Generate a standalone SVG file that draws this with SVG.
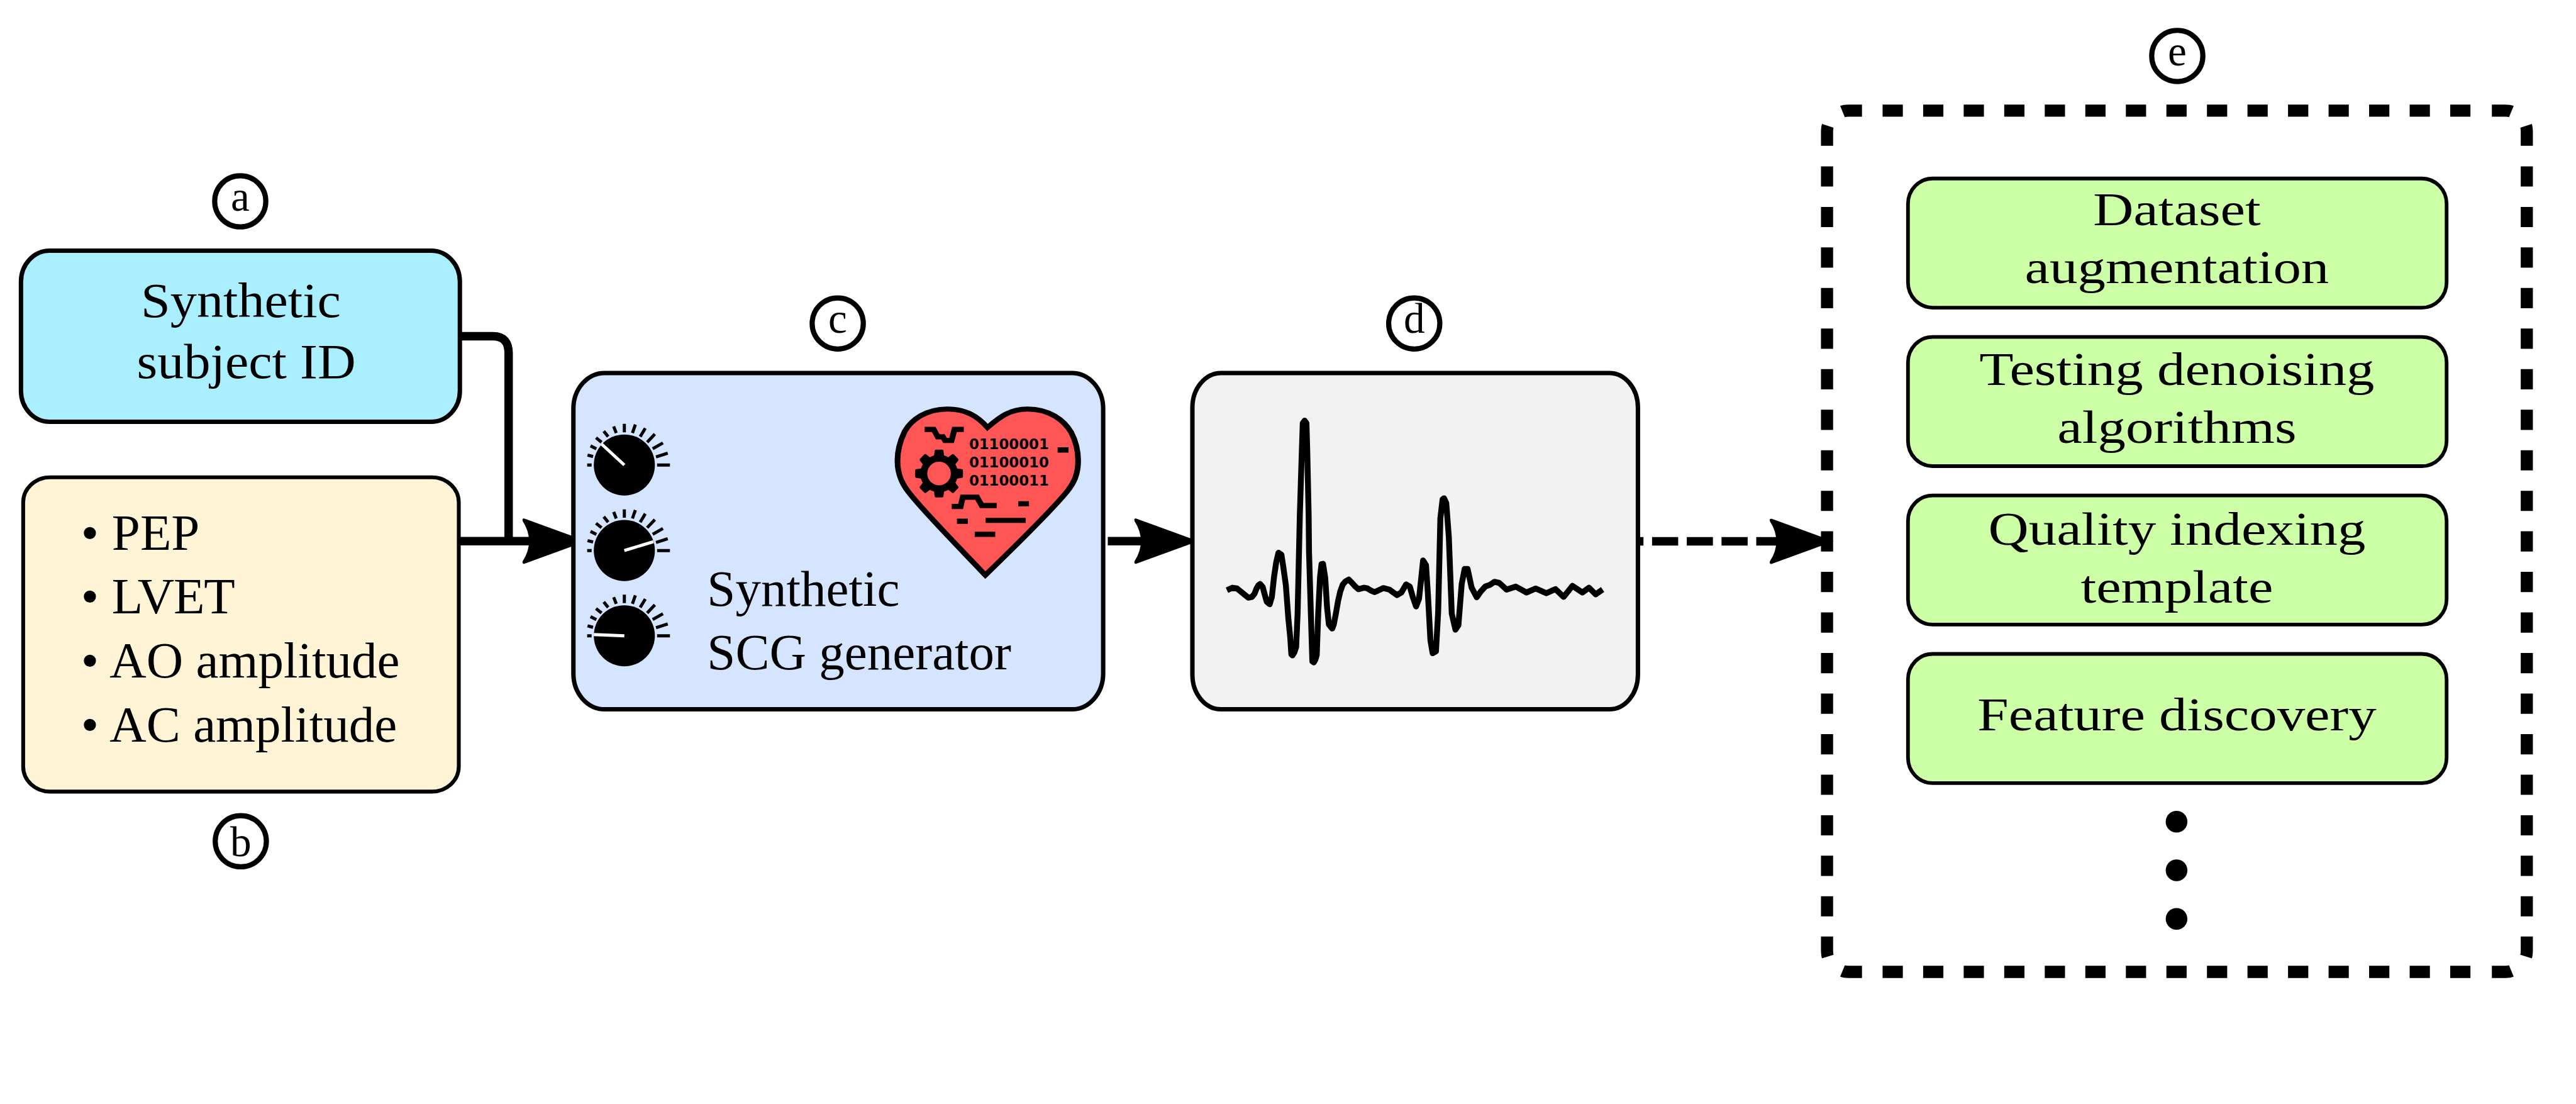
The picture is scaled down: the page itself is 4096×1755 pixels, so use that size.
<svg xmlns="http://www.w3.org/2000/svg" xmlns:xlink="http://www.w3.org/1999/xlink" width="4096" height="1755" viewBox="0 0 4096 1755">
<style>
text{font-family:"Liberation Serif","Times New Roman",serif;fill:#000}
.t132{font-size:132px}.t138{font-size:138.5px}.t126{font-size:126px;text-anchor:middle}
.lab{font-size:115px;text-anchor:middle}
.bin{font-family:"DejaVu Sans",sans-serif;font-weight:bold;font-size:39px}
.circ{fill:#fff;stroke:#000;stroke-width:14}
.box{stroke:#000;stroke-width:12}
.green{fill:#ccffa6;stroke:#000;stroke-width:10}
.line{fill:none;stroke:#000;stroke-width:23}
.dash{fill:none;stroke:#000;stroke-width:33}
.tick{stroke:#000;stroke-width:8.5;fill:none}
.hand{stroke:#fff;stroke-width:8.5;fill:none}
</style>
<defs>
<path id="arrow" d="M0 0L-168-61Q-176-63-173-54Q-156-28-156 0Q-156 28-173 54Q-176 63-168 61Z" fill="#000"/>
<g id="ticks">
<path class="tick" d="M-101 0H-89M-100-27L-85-23M-92-52L-76-44M-77-74L-62-62M-56-92L-44-77M-29-105L-22-87M0-112V-89M30-110L22-87M57-100L43-77M83-84L62-62M105-60L77-44M118-32L86-22M124 0H89"/>
<circle r="83" fill="#000"/>
</g>
<path id="tooth" d="M-14-46L-12-61Q-12-65-8-65H8Q12-65 12-61L14-46Z" fill="#000"/>
</defs>
<g transform="scale(0.585)">
<g id="connectors">
<path class="line" d="M1250 913.5H1340Q1382.5 913.5 1382.5 960V1470.5"/>
<path class="line" d="M1250 1470.5H1445"/>
<use href="#arrow" x="1594" y="1470.5"/>
<path class="line" d="M3011 1470.5H3105"/>
<use href="#arrow" x="3257" y="1470.5"/>
<path class="line" d="M4457 1471H4835" stroke-dasharray="71 23.4" stroke-dashoffset="61"/>
<use href="#arrow" x="4984" y="1471"/>
</g>
<g id="node-a">
<rect class="box" x="57" y="681" width="1193" height="465" rx="78" ry="84" fill="#aaefff"/>
<text class="t132" transform="translate(383 862) scale(1.09 1)">Synthetic</text>
<text class="t132" transform="translate(372 1028) scale(1.09 1)">subject ID</text>
</g>
<g id="label-a"><circle class="circ" cx="653" cy="547" r="69.5"/><text class="lab" x="653" y="573">a</text></g>
<g id="node-b">
<rect class="box" style="stroke-width:10.5" x="63" y="1297" width="1184" height="854" rx="73" ry="68" fill="#fff5d6"/>
<text class="t138"><tspan x="220" y="1493.5">•</tspan> <tspan x="304" y="1493.5">PEP</tspan></text>
<text class="t138"><tspan x="220" y="1667">•</tspan> <tspan x="304" y="1667" letter-spacing="-2">LVET</tspan></text>
<text class="t138"><tspan x="220" y="1841">•</tspan> <tspan x="298" y="1841">AO amplitude</tspan></text>
<text class="t138"><tspan x="220" y="2016">•</tspan> <tspan x="298" y="2016">AC amplitude</tspan></text>
</g>
<g id="label-b"><circle class="circ" cx="654.5" cy="2286" r="69.5"/><text class="lab" x="654.5" y="2327">b</text></g>
<g id="node-c">
<rect class="box" x="1558.5" y="1013.5" width="1440" height="914" rx="85" ry="97" fill="#d5e5ff"/>
<g id="knob-1" transform="translate(1697 1263.6)"><use href="#ticks"/><path class="hand" d="M0 0L-61.7-56.7"/></g>
<g id="knob-2" transform="translate(1697 1496)"><use href="#ticks"/><path class="hand" d="M0 0L79-24"/></g>
<g id="knob-3" transform="translate(1697 1727.7)"><use href="#ticks"/><path class="hand" d="M0 0L-83-3.5"/></g>
<g id="heart">
<g transform="translate(2350 1050) scale(.3954 .3508)">
<path d="M845 318C780 235 700 175 570 175C420 175 320 260 275 350C245 420 226 500 226 575C226 680 255 750 300 815C400 965 700 1305 830 1462C960 1320 1280 970 1395 810C1440 745 1468 680 1468 575C1468 500 1450 420 1420 355C1370 260 1270 175 1120 175C1000 175 930 235 845 318Z" fill="#ff5555" stroke="#000" stroke-width="39" stroke-miterlimit="8"/>
<path d="M413 333H475L503 390H538L553 419H598L618 333H682M599 930H660L675 858H773L805 923H908" fill="none" stroke="#000" stroke-width="40"/>
<path d="M1327 472H1402V513H1327ZM1056 889H1130V930H1056ZM635 1024H710V1065H635ZM832 1018H1107V1058H832ZM757 1126H898V1166H757Z" fill="#000"/>
</g>
<g id="gear" transform="translate(2552.4 1286.8)">
<circle r="41.5" fill="none" stroke="#000" stroke-width="19"/>
<use href="#tooth"/><use href="#tooth" transform="rotate(45)"/><use href="#tooth" transform="rotate(90)"/><use href="#tooth" transform="rotate(135)"/><use href="#tooth" transform="rotate(180)"/><use href="#tooth" transform="rotate(225)"/><use href="#tooth" transform="rotate(270)"/><use href="#tooth" transform="rotate(315)"/>
</g>
<text class="bin" x="2634" y="1220">01100001</text>
<text class="bin" x="2634" y="1269.5">01100010</text>
<text class="bin" x="2634" y="1319">01100011</text>
</g>
<text class="t138" x="1922" y="1647">Synthetic</text>
<text class="t138" x="1922" y="1819">SCG generator</text>
</g>
<g id="label-c"><circle class="circ" cx="2277" cy="879" r="69.5"/><text class="lab" x="2277" y="905">c</text></g>
<g id="node-d">
<rect class="box" x="3241" y="1013.5" width="1211" height="914" rx="78" ry="94" fill="#f2f2f2"/>
<polyline fill="none" stroke="#000" stroke-width="16" stroke-linejoin="round" points="3335,1604 3350,1597 3362,1599 3372,1607 3383,1616 3393,1624 3403,1622 3410,1613 3415,1600 3420,1591 3425,1587 3432,1595 3438,1617 3443,1635 3451,1642 3457,1622 3463,1567 3469,1527 3475,1502 3483,1507 3488,1540 3495,1590 3502,1683 3507,1733 3510,1778 3513,1781 3518,1773 3523,1758 3527,1667 3530,1533 3533,1400 3538,1240 3541,1150 3546,1143 3551,1150 3553,1217 3557,1400 3558,1500 3563,1667 3567,1797 3571,1800 3575,1793 3579,1780 3583,1667 3588,1567 3592,1533 3596,1532 3602,1570 3607,1650 3612,1697 3621,1708 3625,1698 3630,1673 3637,1633 3643,1607 3650,1588 3657,1580 3666,1575 3673,1582 3683,1593 3692,1601 3708,1597 3717,1599 3727,1605 3736,1609 3745,1605 3760,1598 3776,1602 3797,1617 3809,1610 3822,1588 3832,1594 3840,1622 3849,1648 3857,1627 3863,1571 3868,1523 3876,1536 3881,1612 3888,1740 3894,1775 3903,1770 3909,1663 3915,1408 3921,1357 3925,1354 3931,1367 3938,1459 3946,1668 3956,1711 3964,1699 3973,1587 3981,1546 3989,1546 4000,1597 4014,1623 4025,1607 4037,1594 4050,1589 4062,1581 4075,1584 4095,1602 4120,1594 4149,1610 4174,1599 4203,1612 4228,1601 4250,1622 4274,1592 4301,1610 4319,1597 4337,1615 4356,1602"/>
</g>
<g id="label-d"><circle class="circ" cx="3844" cy="879" r="69.5"/><text class="lab" x="3844" y="905">d</text></g>
<g id="group-e">
<path class="dash" d="M5117 300.5H6717M5117 2641H6717M4966 452V2490M6868 452V2490" stroke-dasharray="55 55.2"/>
<path class="dash" d="M5061 300.5H5025Q5014 300.5 5008 303M4966 396V360Q4966 348 4968 342M6773 300.5H6809Q6820 300.5 6826 303M6868 396V360Q6868 348 6866 342M5061 2641H5025Q5014 2641 5008 2638.5M4966 2545V2581Q4966 2593 4968 2599.5M6773 2641H6809Q6820 2641 6826 2638.5M6868 2545V2581Q6868 2593 6866 2599.5"/>
<g id="e-1"><rect class="green" x="5186" y="485" width="1464" height="351" rx="67" ry="69"/><text class="t126" transform="translate(5917 612) scale(1.206 1)">Dataset</text><text class="t126" transform="translate(5917 769) scale(1.206 1)">augmentation</text></g>
<g id="e-2"><rect class="green" x="5186" y="915.7" width="1464" height="351" rx="67" ry="69"/><text class="t126" transform="translate(5917 1046) scale(1.206 1)">Testing denoising</text><text class="t126" transform="translate(5917 1203) scale(1.206 1)">algorithms</text></g>
<g id="e-3"><rect class="green" x="5186" y="1346.3" width="1464" height="351" rx="67" ry="69"/><text class="t126" transform="translate(5917 1480) scale(1.206 1)">Quality indexing</text><text class="t126" transform="translate(5917 1637) scale(1.206 1)">template</text></g>
<g id="e-4"><rect class="green" x="5186" y="1777" width="1464" height="351" rx="67" ry="69"/><text class="t126" transform="translate(5917 1984) scale(1.206 1)">Feature discovery</text></g>
<circle cx="5916" cy="2233" r="29.5"/><circle cx="5916" cy="2365" r="29.5"/><circle cx="5916" cy="2497" r="29.5"/>
</g>
<g id="label-e"><circle class="circ" cx="5918" cy="152" r="69.5"/><text class="lab" x="5918" y="178">e</text></g>
</g>
</svg>
